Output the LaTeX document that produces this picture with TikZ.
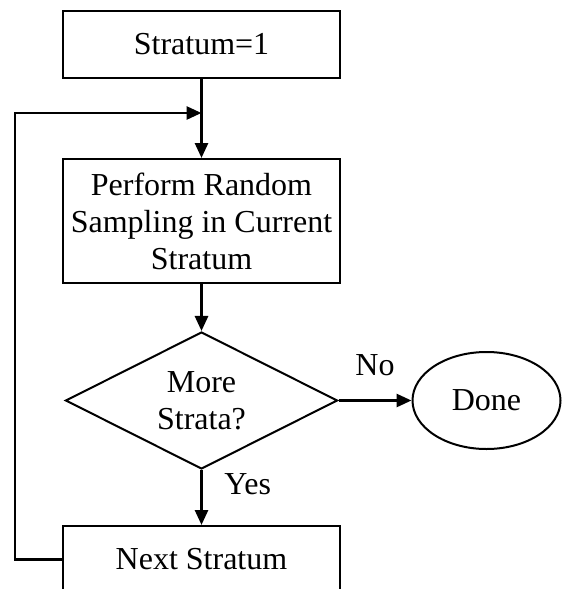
\documentclass[tikz,border=0pt]{standalone}
\usepackage{fontspec}
\setmainfont{Liberation Serif}
\usepackage{tikz}
\usetikzlibrary{arrows.meta,positioning,shapes.geometric}
\newcommand{\flowfont}{\fontsize{16pt}{18.5pt}\selectfont}
\tikzset{
  flow box/.style={rectangle,draw,line width=1pt,minimum width=138.5pt,inner sep=0pt,align=center,font=\flowfont},
  flow decision/.style={diamond,draw,line width=1pt,aspect=2,minimum width=136pt,minimum height=68.5pt,inner sep=0pt,align=center,font=\flowfont},
  flow end/.style={ellipse,draw,line width=1pt,minimum width=74pt,minimum height=48.5pt,inner sep=0pt,font=\flowfont},
  flow arrow/.style={-{Triangle[length=7.5pt,width=6.5pt]},line width=1.4pt},
  flow label/.style={inner sep=0pt,font=\flowfont}
}
\begin{document}
\begin{tikzpicture}[x=0.5pt,y=-0.5pt]
  \useasboundingbox (0,0) rectangle (563,589);
  \node[flow box,minimum height=33.5pt] (init) at (201.5,44.5) {Stratum=1};
  \coordinate[below=17pt of init] (merge);
  \node[flow box,minimum height=62pt,below=39.5pt of init] (sample) {Perform Random\\Sampling in Current\\Stratum};
  \node[flow decision,below=23.5pt of sample] (more) {More\\Strata?};
  \node[flow end,right=36.5pt of more] (done) {Done};
  \node[flow box,minimum height=33.5pt,below=27.5pt of more] (next) {Next Stratum};
  \draw[flow arrow] (init) -- (sample);
  \draw[flow arrow] (sample) -- (more);
  \draw[flow arrow] (more) -- node[flow label,above=11.5pt] {No} (done);
  \draw[flow arrow] (more) -- node[flow label,pos=0.25,right=10.75pt] {Yes} (next);
  \draw[flow arrow] (next.west) -- ++(-23.5pt,0) |- (merge);
\end{tikzpicture}
\end{document}
